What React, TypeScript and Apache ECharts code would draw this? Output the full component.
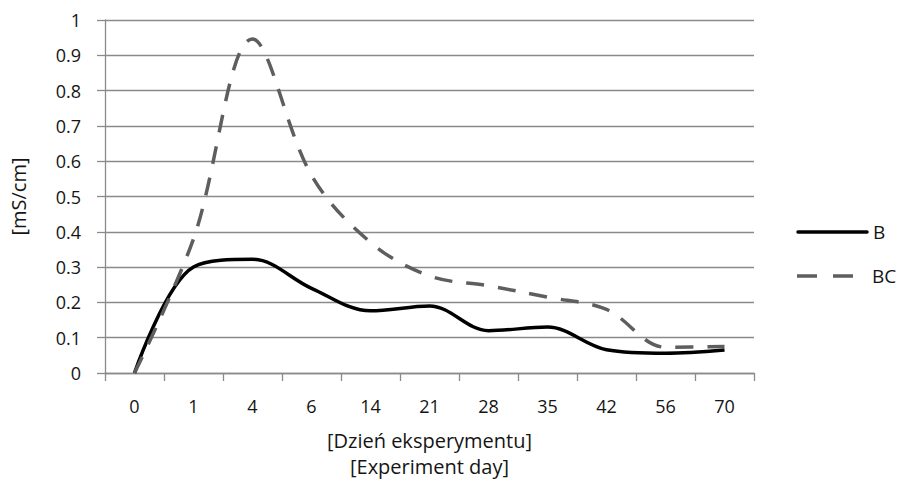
import React, { useEffect, useRef } from "react";
import * as echarts from "echarts";

const days = ["0", "1", "4", "6", "14", "21", "28", "35", "42", "56", "70"];
const seriesB = [0, 0.3, 0.322, 0.24, 0.176, 0.19, 0.12, 0.13, 0.066, 0.056, 0.065];
const seriesBC = [0, 0.38, 0.946, 0.56, 0.37, 0.275, 0.247, 0.215, 0.18, 0.073, 0.075];
const legendNames = ["B", "BC"];

const FONT = "'Open Sans', sans-serif";
const GRID = "#8a8a8a";
const TEXT = "#151515";
const B_COLOR = "#000000";
const BC_COLOR = "#5e5e5e";

export default function App() {
  const ref = useRef<HTMLDivElement>(null);

  useEffect(() => {
    if (!ref.current) return;
    const chart = echarts.init(ref.current, null, { renderer: "svg" });
    chart.setOption({
      animation: false,
      backgroundColor: "#ffffff",
      grid: { left: 102, right: 149, top: 20, bottom: 110, containLabel: false },
      xAxis: {
        type: "category",
        data: days,
        boundaryGap: true,
        name: "[Dzień eksperymentu]\n[Experiment day]",
        nameLocation: "middle",
        nameGap: 54,
        nameTextStyle: { fontFamily: FONT, fontSize: 20, color: TEXT, lineHeight: 26 },
        axisLine: { lineStyle: { color: GRID, width: 1.3 } },
        axisTick: { show: true, length: 8, lineStyle: { color: GRID, width: 1.3 } },
        axisLabel: { fontFamily: FONT, fontSize: 18, color: TEXT, margin: 24 },
        splitLine: { show: false },
      },
      yAxis: {
        type: "value",
        min: 0,
        max: 1,
        interval: 0.1,
        name: "[mS/cm]",
        nameLocation: "middle",
        nameGap: 77,
        nameRotate: 90,
        nameTextStyle: { fontFamily: FONT, fontSize: 20, color: TEXT },
        axisLine: { show: true, lineStyle: { color: GRID, width: 1.3 } },
        axisTick: { show: true, length: 8, lineStyle: { color: GRID, width: 1.3 } },
        axisLabel: {
          fontFamily: FONT,
          fontSize: 18,
          color: TEXT,
          margin: 24,
          formatter: (v: number) => String(Math.round(v * 10) / 10),
        },
        splitLine: { show: true, lineStyle: { color: GRID, width: 1.3 } },
      },
      graphic: [
        // legend: solid B
        {
          type: "line",
          shape: { x1: 798, y1: 232, x2: 867, y2: 232 },
          style: { stroke: B_COLOR, lineWidth: 3.5, lineCap: "round" },
        },
        {
          type: "text",
          x: 873,
          y: 232,
          style: { text: legendNames[0], fontFamily: FONT, fontSize: 19, fill: TEXT, verticalAlign: "middle" },
        },
        // legend: dashed BC
        {
          type: "line",
          shape: { x1: 797, y1: 276, x2: 853, y2: 276 },
          style: { stroke: BC_COLOR, lineWidth: 3.5, lineDash: [20, 16] },
        },
        {
          type: "text",
          x: 872,
          y: 276,
          style: { text: legendNames[1], fontFamily: FONT, fontSize: 19, fill: TEXT, verticalAlign: "middle" },
        },
      ],
      series: [
        {
          name: legendNames[0],
          type: "line",
          data: seriesB,
          smooth: 0.35,
          symbol: "none",
          lineStyle: { color: B_COLOR, width: 3.5 },
          itemStyle: { color: B_COLOR },
        },
        {
          name: legendNames[1],
          type: "line",
          data: seriesBC,
          smooth: 0.35,
          symbol: "none",
          lineStyle: { color: BC_COLOR, width: 3.5, type: [18, 14] },
          itemStyle: { color: BC_COLOR },
        },
      ],
    });
    return () => chart.dispose();
  }, []);

  return <div ref={ref} style={{ width: 903, height: 484, position: "absolute", left: 0, top: 0 }} />;
}
